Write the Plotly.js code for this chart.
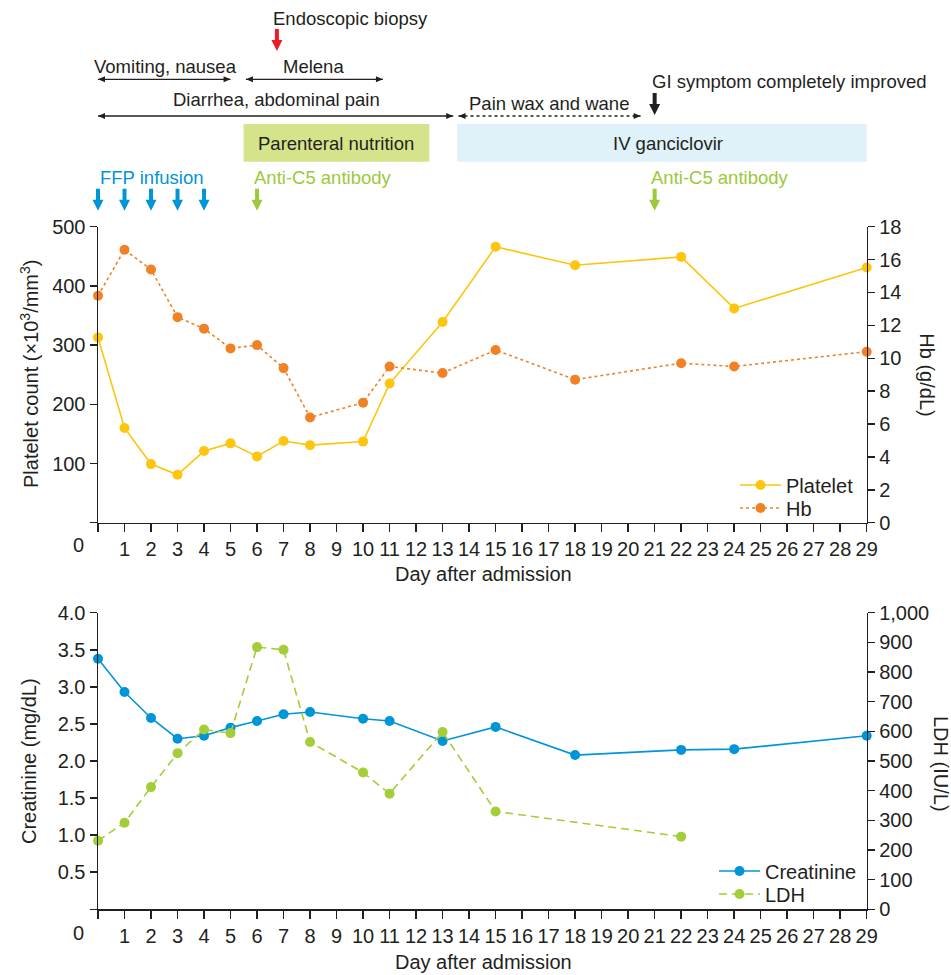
<!DOCTYPE html>
<html>
<head>
<meta charset="utf-8">
<script src="https://cdn.plot.ly/plotly-3.0.1.min.js"></script>
<style>html,body{margin:0;padding:0;background:#fff;}#chart{width:951px;height:975px;}</style>
</head>
<body>
<div id="chart"></div>
<script>
// ---------- data ----------
const days = [0,1,2,3,4,5,6,7,8,10,11,13,15,18,22,24,29];
const platelet = [313,160,99,81,121,134,112,138,131,137,235,339,466,435,449,362,431];
const hb = [13.8,16.6,15.4,12.5,11.8,10.6,10.8,9.4,6.4,7.3,9.5,9.1,10.5,8.7,9.7,9.5,10.4];
const creatinine = [3.38,2.93,2.58,2.30,2.34,2.45,2.54,2.63,2.66,2.57,2.54,2.27,2.46,2.08,2.15,2.16,2.34];
const ldhDays = [0,1,2,3,4,5,6,7,8,10,11,13,15,22];
const ldh = [231,292,412,526,606,594,884,875,564,461,390,598,330,245];

const xTickVals = Array.from({length:29},(_,i)=>i+1);   // 1..29 labelled
const pltTicks = [100,200,300,400,500];
const hbTicks = [0,2,4,6,8,10,12,14,16,18];
const crTicks = [0.5,1,1.5,2,2.5,3,3.5,4];
const crTickText = ['0.5','1.0','1.5','2.0','2.5','3.0','3.5','4.0'];
const ldhTicks = [0,100,200,300,400,500,600,700,800,900,1000];

// timeline events (days)
const ffpDays = [0,1,2,3,4];
const antiC5Days = [6,21];
const biopsyDay = 6.75;
const giImprovedDay = 21;
const vomitingSpan = [0,5];
const melenaSpan = [5.58,10.75];
const diarrheaSpan = [0,13.4];
const painSpan = [13.6,20.47];
const parenteralSpan = [5.49,12.5];
const ganciclovirSpan = [13.55,29];

// ---------- helpers ----------
const W = 951, H = 975;
const px = x => x / W;
const py = y => (H - y) / H;
const FONT = 'Liberation Sans, Arial, Helvetica, sans-serif';
const TXT = '#231f20';
const C_PLT = '#fcc50e', C_HB = '#f08125', C_CR = '#0095d8', C_LDH = '#a3cd39';
const C_BLUE = '#0096d6', C_GREEN = '#9cc93b', C_RED = '#ed1c24';

const xDom = [px(98), px(866.7)];
const topDom = [py(522.7), py(226.7)];
const botDom = [py(909.3), py(612.7)];
const XMAX = 29;
// day -> paper x (same linear scale as the x axes)
const dx = d => xDom[0] + d / XMAX * (xDom[1] - xDom[0]);

const traces = [
  {x: days, y: platelet, name: 'Platelet', type: 'scatter', mode: 'lines+markers',
   xaxis: 'x', yaxis: 'y', legend: 'legend', cliponaxis: false,
   line: {color: C_PLT, width: 1.6}, marker: {color: C_PLT, size: 10}},
  {x: days, y: hb, name: 'Hb', type: 'scatter', mode: 'lines+markers',
   xaxis: 'x', yaxis: 'y2', legend: 'legend2', cliponaxis: false,
   line: {color: C_HB, width: 1.6, dash: '3px,3px'}, marker: {color: C_HB, size: 10}},
  {x: days, y: creatinine, name: 'Creatinine', type: 'scatter', mode: 'lines+markers',
   xaxis: 'x2', yaxis: 'y3', legend: 'legend3', cliponaxis: false,
   line: {color: C_CR, width: 1.6}, marker: {color: C_CR, size: 10}},
  {x: ldhDays, y: ldh, name: 'LDH', type: 'scatter', mode: 'lines+markers',
   xaxis: 'x2', yaxis: 'y4', legend: 'legend4', cliponaxis: false,
   line: {color: C_LDH, width: 1.6, dash: '8px,5px'}, marker: {color: C_LDH, size: 10}}
];

const axBase = {
  showline: true, linecolor: TXT, linewidth: 1.5, ticks: 'outside', ticklen: 7,
  tickwidth: 1.5, tickcolor: TXT, showgrid: false, zeroline: false, fixedrange: true,
  tickfont: {family: FONT, size: 20, color: TXT}, automargin: false
};
const zeroMinor = len => ({tickvals: [0], ticks: 'outside', ticklen: len, tickwidth: 1.5, tickcolor: TXT, showgrid: false});

const legBase = {xanchor: 'left', yanchor: 'middle', bgcolor: 'rgba(0,0,0,0)', itemwidth: 41,
  font: {size: 20, family: FONT, color: TXT}};

const layout = {
  width: W, height: H, margin: {l: 0, r: 0, t: 0, b: 0},
  paper_bgcolor: '#fff', plot_bgcolor: 'rgba(0,0,0,0)',
  font: {family: FONT, size: 20, color: TXT},
  xaxis: Object.assign({}, axBase, {domain: xDom, range: [0,XMAX], anchor: 'y',
     tickvals: xTickVals, ticklen: 8, minor: zeroMinor(8)}),
  yaxis: Object.assign({}, axBase, {domain: topDom, range: [0,500], anchor: 'x',
     tickvals: pltTicks, minor: zeroMinor(7)}),
  yaxis2: Object.assign({}, axBase, {overlaying: 'y', side: 'right', anchor: 'x', range: [0,18],
     tickvals: hbTicks}),
  xaxis2: Object.assign({}, axBase, {domain: xDom, range: [0,XMAX], anchor: 'y3',
     tickvals: xTickVals, ticklen: 8, minor: zeroMinor(8)}),
  yaxis3: Object.assign({}, axBase, {domain: botDom, range: [0,4], anchor: 'x2',
     tickvals: crTicks, ticktext: crTickText, minor: zeroMinor(7)}),
  yaxis4: Object.assign({}, axBase, {overlaying: 'y3', side: 'right', anchor: 'x2', range: [0,1000],
     tickvals: ldhTicks, tickformat: ','}),
  showlegend: true,
  legend:  Object.assign({x: px(735), y: py(485)}, legBase),
  legend2: Object.assign({x: px(735), y: py(508)}, legBase),
  legend3: Object.assign({x: px(714), y: py(871)}, legBase),
  legend4: Object.assign({x: px(714), y: py(894)}, legBase),
  shapes: [],
  annotations: []
};

function ann(text, x, y, opts) {
  layout.annotations.push(Object.assign({text: text, xref: 'paper', yref: 'paper', x: px(x), y: py(y),
    xanchor: 'center', yanchor: 'middle', showarrow: false,
    font: {family: FONT, size: 18.5, color: TXT}}, opts || {}));
}
function downArrow(day, tipY, color) {
  layout.shapes.push({type: 'path', xref: 'paper', yref: 'paper', xsizemode: 'pixel', ysizemode: 'pixel',
    xanchor: dx(day), yanchor: py(tipY),
    path: 'M-2,22 L2,22 L2,11 L5.5,11 L0,0 L-5.5,11 L-2,11 Z',
    fillcolor: color, line: {width: 0}});
}
function head(day, yPx, dir) {
  const p = dir > 0 ? 'M0,0 L-7,3 L-7,-3 Z' : 'M0,0 L7,3 L7,-3 Z';
  layout.shapes.push({type: 'path', xref: 'paper', yref: 'paper', xsizemode: 'pixel', ysizemode: 'pixel',
    xanchor: dx(day), yanchor: py(yPx), path: p, fillcolor: TXT, line: {width: 0}});
}
function hArrow(span, yPx, dash) {
  layout.shapes.push({type: 'line', xref: 'paper', yref: 'paper', x0: dx(span[0]), x1: dx(span[1]),
    y0: py(yPx), y1: py(yPx), line: {color: TXT, width: 1.3, dash: dash || 'solid'}});
  head(span[1], yPx, 1);
  head(span[0], yPx, -1);
}
function box(span, y0, y1, color) {
  layout.shapes.push({type: 'rect', xref: 'paper', yref: 'paper', x0: dx(span[0]), x1: dx(span[1]),
    y0: py(y1), y1: py(y0), fillcolor: color, line: {width: 0}, layer: 'below'});
}

// boxes
box(parenteralSpan, 124, 161.7, '#d5e48b');
box(ganciclovirSpan, 124, 161.7, '#dff1f9');
// span arrows
hArrow(vomitingSpan, 79.3);
hArrow(melenaSpan, 79.3);
hArrow(diarrheaSpan, 116);
hArrow(painSpan, 116, '3px,3px');
// event arrows
downArrow(biopsyDay, 51, C_RED);
downArrow(giImprovedDay, 115, TXT);
ffpDays.forEach(d => downArrow(d, 210.7, C_BLUE));
antiC5Days.forEach(d => downArrow(d, 210.7, C_GREEN));

// texts
ann('Endoscopic biopsy', 350.5, 19);
ann('Vomiting, nausea', 165, 67);
ann('Melena', 313.7, 67);
ann('Diarrhea, abdominal pain', 276.7, 100);
ann('Pain wax and wane', 548.5, 103.5);
ann('GI symptom completely improved', 789, 81.5);
ann('Parenteral nutrition', 336, 143.5);
ann('IV ganciclovir', 668, 143.5);
ann('FFP infusion', 152, 177.5, {font: {family: FONT, size: 18.5, color: C_BLUE}});
ann('Anti-C5 antibody', 323, 177.5, {font: {family: FONT, size: 18.5, color: C_GREEN}});
ann('Anti-C5 antibody', 719.5, 177.5, {font: {family: FONT, size: 18.5, color: C_GREEN}});

// axis titles and origin labels
const F20 = {font: {family: FONT, size: 20, color: TXT}};
ann('0', 78, 545.5, F20);
ann('0', 78, 933, F20);
ann('Day after admission', 483.5, 574, F20);
ann('Day after admission', 483.5, 962, F20);
ann('Platelet count (×10<sup>3</sup>/mm<sup>3</sup>)', 29, 374, Object.assign({textangle: -90}, F20));
ann('Hb (g/dL)', 926.7, 375, Object.assign({textangle: 90}, F20));
ann('Creatinine (mg/dL)', 29, 761, Object.assign({textangle: -90}, F20));
ann('LDH (IU/L)', 941, 764, Object.assign({textangle: 90}, F20));

Plotly.newPlot('chart', traces, layout, {displayModeBar: false, staticPlot: true});
</script>
</body>
</html>
